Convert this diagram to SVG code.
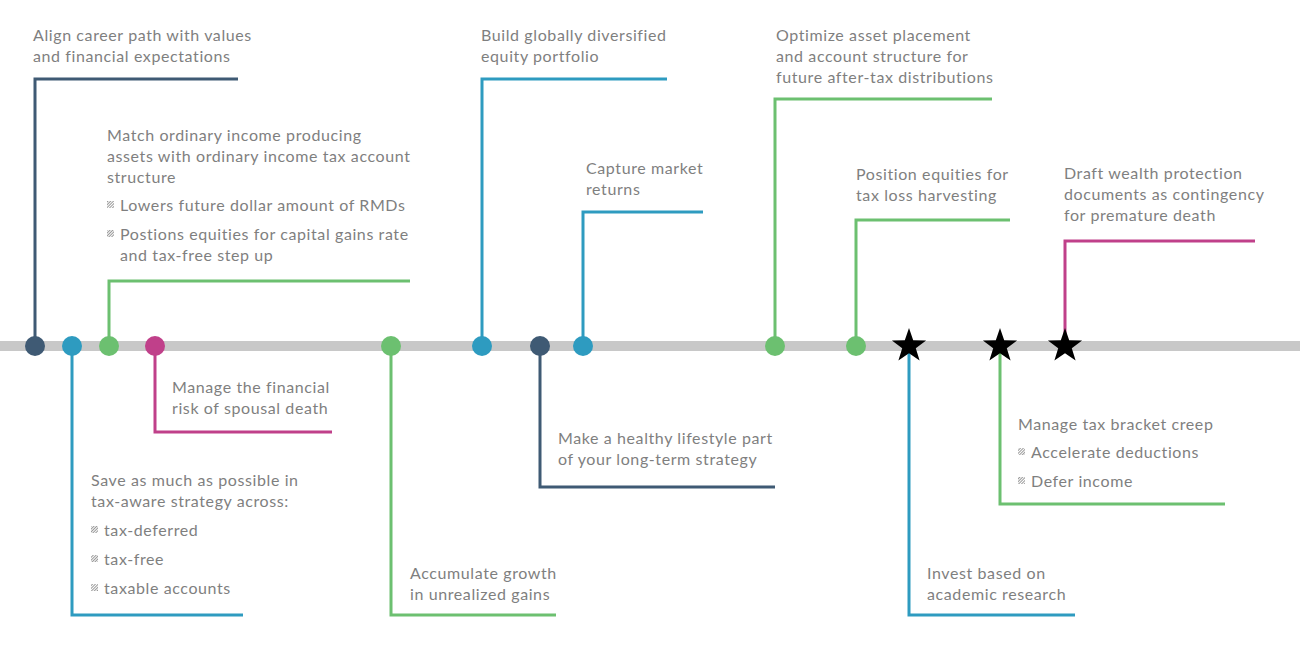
<svg xmlns="http://www.w3.org/2000/svg" width="1300" height="650" viewBox="0 0 1300 650">
<style>
text{font-family:Lato,"Open Sans","Liberation Sans",sans-serif;font-size:16px;letter-spacing:0.6px;fill:#7f7f7f}
.c{fill:none;stroke-width:3}
.dk{stroke:#3f5a74}.bl{stroke:#2e9bc0}.gr{stroke:#6cc070}.mg{stroke:#c0408a}
.fdk{fill:#3f5a74}.fbl{fill:#2e9bc0}.fgr{fill:#6cc070}.fmg{fill:#c0408a}
.b{fill:url(#hatch)}
</style>
<defs>
<pattern id="hatch" width="2" height="2" patternUnits="userSpaceOnUse" patternTransform="rotate(45)"><rect width="1" height="2" fill="#999"/></pattern>
<polygon id="star" points="0,-18 4.2,-5.8 17.1,-5.6 6.8,2.2 10.6,14.6 0,7.2 -10.6,14.6 -6.8,2.2 -17.1,-5.6 -4.2,-5.8" fill="#000"/>
</defs>
<rect x="0" y="341" width="1300" height="10" fill="#c8c8c8"/>
<g id="connectors">
<polyline class="c dk" points="35,346 35,79 238,79"/>
<polyline class="c bl" points="72,346 72,615 243,615"/>
<polyline class="c gr" points="109,346 109,281 410,281"/>
<polyline class="c mg" points="155,346 155,432 332,432"/>
<polyline class="c gr" points="391,346 391,615 556,615"/>
<polyline class="c bl" points="482,346 482,79 667,79"/>
<polyline class="c dk" points="540,346 540,487 775,487"/>
<polyline class="c bl" points="583,346 583,212 703,212"/>
<polyline class="c gr" points="775,346 775,99 992,99"/>
<polyline class="c gr" points="856,346 856,220 1010,220"/>
<polyline class="c bl" points="909,346 909,615 1075,615"/>
<polyline class="c gr" points="1000,346 1000,504 1225,504"/>
<polyline class="c mg" points="1065,346 1065,241 1255,241"/>
</g>
<g id="n1"><circle cx="35" cy="346" r="10" class="fdk"/><text x="33" y="41">Align career path with values</text><text x="33" y="62">and financial expectations</text></g>
<g id="n2"><circle cx="72" cy="346" r="10" class="fbl"/><text x="91" y="486">Save as much as possible in</text><text x="91" y="507">tax-aware strategy across:</text>
<rect class="b" x="91" y="526" width="7" height="7"/><text x="104" y="536">tax-deferred</text>
<rect class="b" x="91" y="555" width="7" height="7"/><text x="104" y="565">tax-free</text>
<rect class="b" x="91" y="584" width="7" height="7"/><text x="104" y="594">taxable accounts</text></g>
<g id="n3"><circle cx="109" cy="346" r="10" class="fgr"/><text x="107" y="141">Match ordinary income producing</text><text x="107" y="162">assets with ordinary income tax account</text><text x="107" y="183">structure</text>
<rect class="b" x="107" y="201" width="7" height="7"/><text x="120" y="211">Lowers future dollar amount of RMDs</text>
<rect class="b" x="107" y="230" width="7" height="7"/><text x="120" y="240">Postions equities for capital gains rate</text><text x="120" y="261">and tax-free step up</text></g>
<g id="n4"><circle cx="155" cy="346" r="10" class="fmg"/><text x="172" y="393">Manage the financial</text><text x="172" y="414">risk of spousal death</text></g>
<g id="n5"><circle cx="391" cy="346" r="10" class="fgr"/><text x="410" y="579">Accumulate growth</text><text x="410" y="600">in unrealized gains</text></g>
<g id="n6"><circle cx="482" cy="346" r="10" class="fbl"/><text x="481" y="41">Build globally diversified</text><text x="481" y="62">equity portfolio</text></g>
<g id="n7"><circle cx="540" cy="346" r="10" class="fdk"/><text x="558" y="444">Make a healthy lifestyle part</text><text x="558" y="465">of your long-term strategy</text></g>
<g id="n8"><circle cx="583" cy="346" r="10" class="fbl"/><text x="586" y="174">Capture market</text><text x="586" y="195">returns</text></g>
<g id="n9"><circle cx="775" cy="346" r="10" class="fgr"/><text x="776" y="41">Optimize asset placement</text><text x="776" y="62">and account structure for</text><text x="776" y="83">future after-tax distributions</text></g>
<g id="n10"><circle cx="856" cy="346" r="10" class="fgr"/><text x="856" y="180">Position equities for</text><text x="856" y="201">tax loss harvesting</text></g>
<g id="n11"><use href="#star" x="909" y="346"/><text x="927" y="579">Invest based on</text><text x="927" y="600">academic research</text></g>
<g id="n12"><use href="#star" x="1000" y="346"/><text x="1018" y="430">Manage tax bracket creep</text>
<rect class="b" x="1018" y="448" width="7" height="7"/><text x="1031" y="458">Accelerate deductions</text>
<rect class="b" x="1018" y="477" width="7" height="7"/><text x="1031" y="487">Defer income</text></g>
<g id="n13"><use href="#star" x="1065" y="346"/><text x="1064" y="179">Draft wealth protection</text><text x="1064" y="200">documents as contingency</text><text x="1064" y="221">for premature death</text></g>
</svg>
